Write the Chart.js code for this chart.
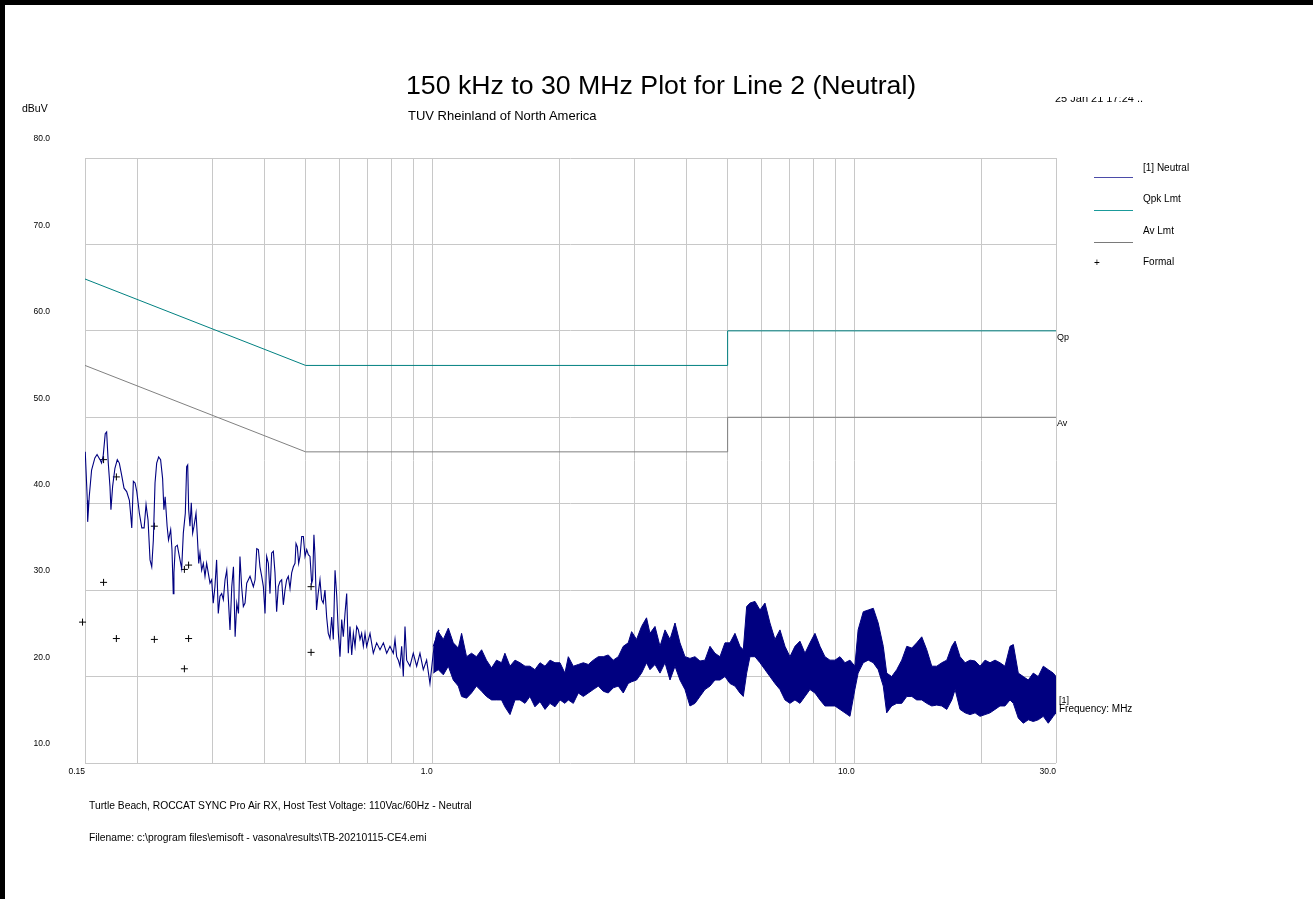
<!DOCTYPE html>
<html>
<head>
<meta charset="utf-8">
<title>150 kHz to 30 MHz Plot for Line 2 (Neutral)</title>
<script src="https://cdn.jsdelivr.net/npm/chart.js@4.4.1/dist/chart.umd.min.js"></script>
<style>
  body { margin: 0; background: #fff; font-family: "Liberation Sans", Arial, sans-serif; color: #000; }
  #page { position: relative; width: 1313px; height: 899px; overflow: hidden; background: #fff; }
  #plot { position: absolute; left: 0; top: 0; }
  .t { position: absolute; white-space: nowrap; line-height: 1; }
  .sw { position: absolute; height: 1px; width: 39px; }
  .bar { position: absolute; background: #000; }
</style>
</head>
<body>
<div id="page">
  <canvas id="plot" width="1313" height="899"></canvas>

  <div class="bar" style="left:0;top:0;width:1313px;height:5px;"></div>
  <div class="bar" style="left:0;top:0;width:5px;height:899px;"></div>

  <div class="t" style="left:406px;top:71.5px;font-size:26.7px;">150 kHz to 30 MHz Plot for Line 2 (Neutral)</div>
  <div class="t" style="left:408px;top:109px;font-size:13px;">TUV Rheinland of North America</div>
  <div style="position:absolute;left:1055px;top:97px;width:120px;height:5px;overflow:hidden;">
    <div class="t" style="left:0;top:-4.2px;font-size:11px;">25 Jan 21 17:24 ..</div>
  </div>
  <div class="t" style="left:22px;top:103.3px;font-size:10.5px;">dBuV</div>

  <!-- legend -->
  <div class="t" style="left:1143px;top:162.7px;font-size:10px;">[1] Neutral</div>
  <div class="sw" style="left:1094px;top:177px;background:#4b4ba8;"></div>
  <div class="t" style="left:1143px;top:193.7px;font-size:10px;">Qpk Lmt</div>
  <div class="sw" style="left:1094px;top:209.5px;background:#1a9a9a;"></div>
  <div class="t" style="left:1143px;top:225.5px;font-size:10px;">Av Lmt</div>
  <div class="sw" style="left:1094px;top:242px;background:#7a7a7a;"></div>
  <div class="t" style="left:1094px;top:258px;font-size:10px;">+</div>
  <div class="t" style="left:1143px;top:257px;font-size:10px;">Formal</div>

  <!-- right edge labels -->
  <div class="t" style="left:1057px;top:332.8px;font-size:9px;">Qp</div>
  <div class="t" style="left:1057px;top:418.8px;font-size:9px;">Av</div>
  <div class="t" style="left:1059px;top:695.8px;font-size:9px;">[1]</div>
  <div class="t" style="left:1059px;top:704px;font-size:10px;">Frequency: MHz</div>

  <!-- footer -->
  <div class="t" style="left:89px;top:800.8px;font-size:10.3px;">Turtle Beach, ROCCAT SYNC Pro Air RX, Host Test Voltage: 110Vac/60Hz - Neutral</div>
  <div class="t" style="left:89px;top:832.8px;font-size:10.3px;">Filename: c:\program files\emisoft - vasona\results\TB-20210115-CE4.emi</div>
</div>

<script>
// Frequency axis (MHz): grid positions and the few labelled ones
const xGrid = [0.15, 0.2, 0.3, 0.4, 0.5, 0.6, 0.7, 0.8, 0.9,
               1, 2, 3, 4, 5, 6, 7, 8, 9, 10, 20, 30];
const xTickLabels = { 0.15: '0.15', 1: '1.0', 10: '10.0', 30: '30.0' };

// Limit lines (dBuV)
const qpkFreq = [0.15, 0.5, 5, 5, 30];
const qpkLevel = [66, 56, 56, 60, 60];
const avFreq = [0.15, 0.5, 5, 5, 30];
const avLevel = [56, 46, 46, 50, 50];

// Neutral scan, 150 kHz .. ~1 MHz (single visible trace)
const lowFreq = [
  0.1502,0.1519,0.1522,0.1535,0.1555,0.1583,0.1602,0.1628,0.1642,0.1657,
  0.1675,0.1688,0.1703,0.1719,0.1728,0.1744,0.1766,0.1789,0.1809,0.1832,
  0.1856,0.1883,0.1911,0.1925,0.1936,0.1953,0.1971,0.1990,0.2018,0.2045,
  0.2071,0.2093,0.2116,0.2139,0.2159,0.2178,0.2198,0.2218,0.2242,0.2266,
  0.2291,0.2307,0.2323,0.2348,0.2366,0.2394,0.2411,0.2428,0.2437,0.2455,
  0.2482,0.2510,0.2542,0.2565,0.2593,0.2612,0.2627,0.2641,0.2660,0.2679,
  0.2699,0.2719,0.2749,0.2769,0.2790,0.2809,0.2835,0.2861,0.2887,0.2913,
  0.2939,0.2967,0.2994,0.3020,0.3048,0.3076,0.3104,0.3133,0.3162,0.3191,
  0.3221,0.3251,0.3280,0.3309,0.3341,0.3372,0.3403,0.3434,0.3466,0.3494,
  0.3526,0.3559,0.3592,0.3625,0.3658,0.3691,0.3725,0.3759,0.3794,0.3829,
  0.3863,0.3897,0.3934,0.3970,0.4006,0.4042,0.4079,0.4116,0.4154,0.4192,
  0.4230,0.4268,0.4307,0.4347,0.4387,0.4427,0.4467,0.4508,0.4549,0.4591,
  0.4633,0.4675,0.4718,0.4744,0.4779,0.4813,0.4848,0.4894,0.4938,0.4983,
  0.5029,0.5074,0.5120,0.5167,0.5195,0.5231,0.5258,0.5306,0.5353,0.5407,
  0.5455,0.5504,0.5556,0.5607,0.5657,0.5710,0.5763,0.5815,0.5870,0.5925,
  0.5977,0.6031,0.6087,0.6141,0.6198,0.6255,0.6311,0.6369,0.6429,0.6487,
  0.6546,0.6606,0.6667,0.6726,0.6787,0.6850,0.6913,0.6976,0.7104,0.7233,
  0.7366,0.7502,0.7642,0.7781,0.7921,0.8068,0.8142,0.8217,0.8291,0.8365,
  0.8443,0.8519,0.8598,0.8677,0.8834,0.8996,0.9163,0.9330,0.9501,0.9675,
  0.9853,1.003,1.022,1.036
];
const lowLevel = [
  46.0,40.4,37.9,40.8,43.9,45.3,45.7,45.1,44.7,45.6,
  48.1,48.3,44.7,42.0,39.3,42.0,44.1,45.1,44.7,43.3,
  41.8,41.4,40.4,38.7,37.2,42.6,42.4,41.4,38.9,37.2,
  37.2,39.9,38.1,33.5,32.7,35.8,42.4,44.7,45.4,45.1,
  42.9,39.3,40.8,37.4,35.8,37.0,34.7,29.6,32.0,35.0,
  35.2,33.9,32.5,36.6,38.9,44.3,44.5,39.3,37.4,40.1,
  36.6,37.4,38.9,36.2,33.1,34.3,32.3,33.1,31.6,33.1,
  32.0,30.8,31.2,28.5,30.4,33.5,27.3,29.3,29.6,28.9,
  31.2,32.3,28.9,25.4,30.4,32.7,24.6,28.5,27.3,33.9,
  30.4,28.1,28.5,30.8,31.2,31.6,31.0,30.4,31.2,34.8,
  34.7,32.7,31.6,30.4,27.3,33.9,33.1,29.6,34.3,34.5,
  32.0,27.5,30.4,31.0,31.2,28.3,30.0,31.2,31.6,30.2,
  32.0,32.7,33.1,35.4,35.0,33.1,33.9,36.2,36.2,33.9,
  34.7,34.1,33.9,30.8,31.2,36.4,34.3,27.7,29.6,31.2,
  28.9,28.5,30.0,26.9,25.0,24.4,26.9,24.3,32.3,29.3,
  25.0,22.3,26.6,24.6,27.3,29.6,22.7,25.8,22.5,25.0,
  23.5,25.8,25.4,24.3,25.0,23.5,25.0,23.5,25.0,22.7,
  23.9,23.1,23.9,22.7,23.5,22.7,24.3,22.3,21.9,21.2,
  23.5,20.0,25.8,21.9,21.2,22.7,21.2,22.7,20.8,21.9,
  19.2,22.7,25.0,25.4
];

// Neutral scan, ~1 MHz .. 30 MHz: dense sweep read as top / bottom edge of the band
const denseFreq = [
  1.003,1.031,1.060,1.089,1.119,1.150,1.171,1.203,1.236,1.270,
  1.306,1.341,1.379,1.417,1.456,1.483,1.525,1.567,1.610,1.655,
  1.700,1.747,1.796,1.846,1.897,1.949,2.003,2.058,2.096,2.154,
  2.214,2.275,2.338,2.402,2.469,2.537,2.607,2.679,2.753,2.829,
  2.907,2.961,3.042,3.126,3.212,3.273,3.364,3.457,3.553,3.651,
  3.752,3.855,3.962,4.071,4.184,4.299,4.418,4.541,4.666,4.795,
  4.928,5.064,5.204,5.348,5.446,5.547,5.648,5.805,5.965,6.130,
  6.299,6.474,6.653,6.837,7.025,7.220,7.419,7.625,7.835,8.052,
  8.275,8.503,8.739,8.980,9.229,9.484,9.747,10.01,10.19,10.48,
  10.77,11.07,11.37,11.69,11.91,12.24,12.58,12.93,13.29,13.66,
  14.03,14.42,14.82,15.23,15.65,16.09,16.53,16.99,17.30,17.77,
  18.27,18.77,19.29,19.82,20.37,20.93,21.51,22.10,22.71,23.34,
  23.77,24.42,25.10,25.79,26.50,27.23,27.99,28.76,29.56,30.0
];
const denseTop = [
  23.5,25.2,24.3,25.6,23.9,23.3,25.0,22.3,22.7,22.3,
  23.1,21.9,21.0,21.9,21.6,22.7,21.2,21.9,21.6,21.2,
  21.2,20.8,21.6,21.2,21.9,21.6,21.6,20.4,22.3,21.2,
  21.4,21.6,21.4,21.9,22.3,22.3,22.5,21.9,22.3,23.5,
  23.9,25.2,24.3,25.8,26.8,25.0,25.8,23.5,25.4,24.3,
  26.2,23.9,22.3,22.1,22.3,21.8,21.9,23.5,22.7,22.3,
  23.9,23.9,25.0,23.5,23.1,28.1,28.5,28.7,27.7,28.5,
  26.2,24.3,25.4,23.5,22.3,23.5,24.1,22.7,23.9,25.0,
  23.5,22.3,21.9,21.9,22.3,21.6,21.9,21.2,25.4,27.5,
  27.7,27.9,26.2,23.5,20.4,20.0,20.8,21.9,23.5,23.3,
  23.9,24.6,23.1,21.2,21.2,21.6,21.9,23.5,24.1,22.3,
  21.6,21.9,21.8,21.2,21.9,21.6,21.9,21.6,21.2,23.5,
  23.7,20.4,20.0,19.6,20.4,20.0,21.2,20.8,20.4,20.0
];
const denseBottom = [
  20.4,20.8,20.2,21.2,19.6,18.9,17.7,17.5,18.1,18.9,
  18.3,17.7,17.3,17.3,17.3,16.5,15.6,17.3,17.3,16.9,
  17.7,16.5,17.1,16.2,16.9,16.5,17.3,16.9,17.3,16.9,
  18.1,17.7,18.1,18.5,18.9,18.3,18.1,18.7,18.9,18.1,
  19.2,19.4,19.6,20.4,21.6,20.8,21.4,20.4,21.6,19.6,
  21.2,19.6,18.5,16.6,16.9,17.7,18.5,18.9,19.6,19.6,
  20.0,19.2,18.9,18.1,17.7,20.4,22.3,22.3,21.6,20.8,
  20.0,19.2,18.5,17.3,16.9,17.3,16.9,17.7,18.5,18.1,
  17.3,16.6,16.6,16.6,16.2,15.8,15.4,18.5,20.4,21.6,
  21.9,21.6,20.8,18.9,15.8,16.6,16.9,16.9,17.7,17.7,
  17.3,17.3,16.9,16.6,16.7,16.6,16.2,17.3,18.5,16.2,
  15.8,15.6,15.8,15.4,15.6,15.8,16.2,16.6,16.6,17.3,
  16.9,15.2,14.6,15.0,14.8,15.0,15.4,14.6,15.4,15.8
];

// Formal (final) measurements
const formalFreq = [0.148, 0.148, 0.166, 0.166, 0.178, 0.178, 0.219, 0.219,
                    0.258, 0.258, 0.264, 0.264, 0.515, 0.515];
const formalLevel = [46.1, 26.3, 45.1, 30.9, 43.1, 24.4, 37.4, 24.3,
                     32.4, 20.9, 32.9, 24.4, 30.4, 22.8];

const NAVY = '#000080';
const GRID = '#c8c8c8';

function pairs(xs, ys) {
    return xs.map((x, i) => ({ x: x, y: ys[i] }));
}

Chart.defaults.font.family = '"Liberation Sans", Arial, sans-serif';
Chart.defaults.color = '#000';

const ctx = document.getElementById('plot').getContext('2d');

new Chart(ctx, {
    type: 'line',
    data: {
        datasets: [
            {
                label: 'Qpk Lmt',
                data: pairs(qpkFreq, qpkLevel),
                borderColor: '#008080',
                borderWidth: 1
            },
            {
                label: 'Av Lmt',
                data: pairs(avFreq, avLevel),
                borderColor: '#808080',
                borderWidth: 1
            },
            {
                label: '[1] Neutral',
                data: pairs(lowFreq, lowLevel),
                borderColor: NAVY,
                borderWidth: 1.1
            },
            {
                label: '[1] Neutral max',
                data: pairs(denseFreq, denseTop),
                borderColor: NAVY,
                borderWidth: 1
            },
            {
                label: '[1] Neutral min',
                data: pairs(denseFreq, denseBottom),
                borderColor: NAVY,
                borderWidth: 1,
                backgroundColor: NAVY,
                fill: '-1'
            },
            {
                label: 'Formal',
                data: pairs(formalFreq, formalLevel),
                showLine: false,
                pointStyle: 'cross',
                pointRadius: 3.5,
                pointBorderWidth: 1,
                pointBorderColor: '#000',
                pointBackgroundColor: '#000',
                clip: false
            }
        ]
    },
    options: {
        responsive: false,
        animation: false,
        devicePixelRatio: 1,
        layout: {
            padding: { left: 0, top: 158, right: 257, bottom: 116 }
        },
        elements: {
            line: { tension: 0, fill: false },
            point: { radius: 0 }
        },
        plugins: {
            legend: { display: false },
            tooltip: { enabled: false },
            title: { display: false }
        },
        scales: {
            x: {
                type: 'logarithmic',
                min: 0.15,
                max: 30,
                afterBuildTicks: function(scale) {
                    scale.ticks = xGrid.map(v => ({ value: v }));
                },
                afterFit: function(scale) {
                    scale.height = 20;
                },
                border: { display: false },
                grid: { color: GRID, lineWidth: 1, drawTicks: false },
                ticks: {
                    autoSkip: false,
                    maxRotation: 0,
                    minRotation: 0,
                    align: 'end',
                    padding: 4,
                    font: { size: 8.5 },
                    callback: function(value) {
                        return xTickLabels[value] || '';
                    }
                }
            },
            y: {
                type: 'linear',
                min: 10,
                max: 80,
                afterFit: function(scale) {
                    scale.width = 85;
                },
                border: { display: false },
                grid: { color: GRID, lineWidth: 1, drawTicks: false },
                ticks: {
                    stepSize: 10,
                    padding: 35,
                    labelOffset: -19,
                    font: { size: 8.5 },
                    callback: function(value) {
                        return value.toFixed(1);
                    }
                }
            }
        }
    }
});
</script>
</body>
</html>
